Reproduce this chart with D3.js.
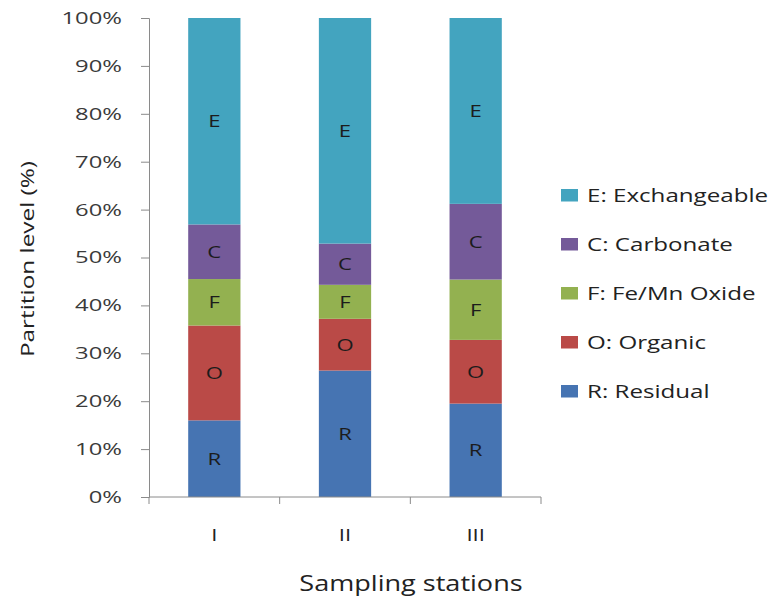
<!DOCTYPE html>
<html>
<head>
<meta charset="utf-8">
<script src="https://cdn.jsdelivr.net/npm/d3@7/dist/d3.min.js"></script>
<style>
  html, body { margin: 0; padding: 0; background: #fff; }
  svg { display: block; }
  text { font-family: "Open Sans", "DejaVu Sans", sans-serif; }
</style>
</head>
<body>
<svg id="chart" width="777" height="600"></svg>
<script>
// Sampling stations along the x axis
const stations = ["I", "II", "III"];

// Fractions stacked bottom to top (percent of total)
const fractionKeys = ["R", "O", "F", "C", "E"];
const fractionNames = {
  E: "E: Exchangeable",
  C: "C: Carbonate",
  F: "F: Fe/Mn Oxide",
  O: "O: Organic",
  R: "R: Residual"
};
const residual     = [16.0, 26.4, 19.5];
const organic      = [19.8, 10.8, 13.3];
const feMnOxide    = [9.7, 7.1, 12.6];
const carbonate    = [11.4, 8.6, 15.8];
const exchangeable = [43.1, 47.1, 38.8];

const yTicks = [0, 10, 20, 30, 40, 50, 60, 70, 80, 90, 100];

const colors = {
  R: "#4674B2",
  O: "#BA4A47",
  F: "#93B150",
  C: "#745A99",
  E: "#43A4BF"
};

// Wide lettering: stretch each label along its baseline
function widen(sel, k) {
  sel.each(function () {
    const w = this.getComputedTextLength();
    d3.select(this).attr("textLength", w * k).attr("lengthAdjust", "spacingAndGlyphs");
  });
}

const rows = stations.map((s, i) => ({
  station: s,
  R: residual[i],
  O: organic[i],
  F: feMnOxide[i],
  C: carbonate[i],
  E: exchangeable[i]
}));

const svg = d3.select("#chart");
const margin = { left: 149, top: 18, right: 236, bottom: 103 };
const width = 777 - margin.left - margin.right;
const height = 600 - margin.top - margin.bottom;

const g = svg.append("g").attr("transform", `translate(${margin.left},${margin.top})`);

const x = d3.scaleBand().domain(stations).range([0, width]).paddingInner(0.6).paddingOuter(0.3);
const y = d3.scaleLinear().domain([0, 100]).range([height, 0]);

const stacked = d3.stack().keys(fractionKeys)(rows);

// Stacked bars
const layers = g.selectAll("g.layer")
  .data(stacked)
  .join("g")
  .attr("class", "layer")
  .attr("fill", d => colors[d.key]);

layers.selectAll("rect")
  .data(d => d)
  .join("rect")
  .attr("x", d => x(d.data.station))
  .attr("y", d => y(d[1]))
  .attr("width", x.bandwidth())
  .attr("height", d => y(d[0]) - y(d[1]));

// Letter inside each segment
layers.selectAll("text")
  .data(d => d.map(p => ({ p, key: d.key })))
  .join("text")
  .attr("x", d => x(d.p.data.station) + x.bandwidth() / 2)
  .attr("y", d => (y(d.p[0]) + y(d.p[1])) / 2)
  .attr("dy", "0.36em")
  .attr("text-anchor", "middle")
  .attr("fill", "#1c1c1c")
  .attr("font-size", 17)
  .text(d => d.key)
  .call(widen, 1.3);

// Y axis
const yAxis = g.append("g")
  .call(d3.axisLeft(y).tickValues(yTicks).tickFormat(d => d + "%").tickSize(8).tickPadding(19));
yAxis.select(".domain").attr("stroke", "#8a8a8a");
yAxis.selectAll(".tick line").attr("stroke", "#8a8a8a");
yAxis.selectAll(".tick text").attr("font-size", 17).attr("fill", "#3a3a3a")
  .attr("font-family", "'Open Sans', sans-serif")
  .call(widen, 1.4);

// X axis with category dividers
const xAxisG = g.append("g").attr("transform", `translate(0,${height})`);
xAxisG.append("line")
  .attr("x1", 0).attr("x2", width)
  .attr("stroke", "#8a8a8a");
const dividers = d3.range(stations.length + 1).map(i => i * width / stations.length);
xAxisG.selectAll("line.div")
  .data(dividers)
  .join("line")
  .attr("class", "div")
  .attr("x1", d => d).attr("x2", d => d)
  .attr("y1", 0).attr("y2", 7)
  .attr("stroke", "#8a8a8a");
xAxisG.selectAll("text.cat")
  .data(stations)
  .join("text")
  .attr("class", "cat")
  .attr("x", d => x(d) + x.bandwidth() / 2)
  .attr("y", 44)
  .attr("text-anchor", "middle")
  .attr("font-size", 17)
  .attr("fill", "#222")
  .text(d => d)
  .call(widen, 1.3);

// Axis titles
svg.append("text")
  .attr("transform", "translate(34,259) rotate(-90)")
  .attr("text-anchor", "middle")
  .attr("font-size", 19)
  .attr("fill", "#222")
  .text("Partition level (%)")
  .call(widen, 1.28);

svg.append("text")
  .attr("x", 411)
  .attr("y", 591)
  .attr("text-anchor", "middle")
  .attr("font-size", 22)
  .attr("fill", "#222")
  .text("Sampling stations")
  .call(widen, 1.23);

// Legend, listed top to bottom in reverse stack order
const legendKeys = fractionKeys.slice().reverse();
const legend = svg.append("g").attr("transform", "translate(561,195)");
const item = legend.selectAll("g")
  .data(legendKeys)
  .join("g")
  .attr("transform", (d, i) => `translate(0,${i * 49})`);
item.append("rect")
  .attr("x", 0).attr("y", -6)
  .attr("width", 17).attr("height", 12.5)
  .attr("fill", d => colors[d]);
item.append("text")
  .attr("x", 26)
  .attr("dy", "0.36em")
  .attr("font-size", 19)
  .attr("fill", "#222")
  .text(d => fractionNames[d])
  .call(widen, 1.27);
</script>
</body>
</html>
